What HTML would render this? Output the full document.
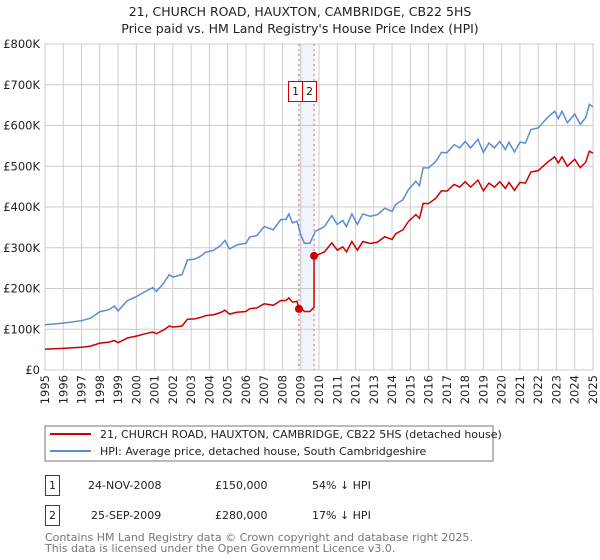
<!DOCTYPE html>
<html><head><meta charset="utf-8"><style>
body{margin:0;background:#fff;width:600px;height:560px;overflow:hidden;font-family:"DejaVu Sans","Liberation Sans",sans-serif;}
svg{position:absolute;left:0;top:0}
</style></head><body>
<svg id="c" width="600" height="560">
<text x="300" y="16" text-anchor="middle" font-size="12.5" fill="#222">21, CHURCH ROAD, HAUXTON, CAMBRIDGE, CB22 5HS</text>
<text x="300" y="33" text-anchor="middle" font-size="12.5" fill="#222">Price paid vs. HM Land Registry's House Price Index (HPI)</text>
<g id="grid"></g><g id="marks"></g><g id="axes"></g>
<rect x="45" y="426" width="448" height="35" fill="#fff" stroke="#777"/>
<line x1="50" y1="434" x2="91" y2="434" stroke="#cc0000" stroke-width="2"/>
<text x="100" y="438" font-size="11" fill="#222">21, CHURCH ROAD, HAUXTON, CAMBRIDGE, CB22 5HS (detached house)</text>
<line x1="50" y1="451" x2="91" y2="451" stroke="#5b8dd6" stroke-width="2"/>
<text x="100" y="455" font-size="11" fill="#222">HPI: Average price, detached house, South Cambridgeshire</text>
<g font-size="11" fill="#222">
<rect x="45.5" y="475.5" width="14" height="20" fill="#fff" stroke="#cc0000"/>
<text x="52.5" y="489" text-anchor="middle">1</text>
<text x="88" y="489">24-NOV-2008</text>
<text x="215" y="489">£150,000</text>
<text x="312" y="489">54% ↓ HPI</text>
<rect x="45.5" y="505.5" width="14" height="20" fill="#fff" stroke="#cc0000"/>
<text x="52.5" y="519" text-anchor="middle">2</text>
<text x="91" y="519">25-SEP-2009</text>
<text x="215" y="519">£280,000</text>
<text x="312" y="519">17% ↓ HPI</text>
</g>
<text x="45" y="541" font-size="11" fill="#777">Contains HM Land Registry data © Crown copyright and database right 2025.</text>
<text x="45" y="552" font-size="11" fill="#777">This data is licensed under the Open Government Licence v3.0.</text>
</svg>
<script>
const hpiYears=[1995,1996,1997,1997.5,1998,1998.5,1998.8,1999,1999.5,2000,2000.5,2000.9,2001.1,2001.5,2001.8,2002,2002.5,2002.8,2003.2,2003.5,2003.8,2004.2,2004.6,2004.85,2005.1,2005.5,2006,2006.2,2006.6,2007,2007.5,2007.9,2008.2,2008.35,2008.55,2008.8,2009.0,2009.2,2009.5,2009.8,2010.3,2010.7,2011,2011.3,2011.5,2011.8,2012.1,2012.4,2012.8,2013.2,2013.6,2014,2014.2,2014.6,2014.9,2015.3,2015.5,2015.7,2016,2016.4,2016.7,2017,2017.4,2017.7,2018,2018.3,2018.7,2019,2019.3,2019.6,2019.9,2020.2,2020.4,2020.7,2021,2021.3,2021.6,2022,2022.5,2022.9,2023.1,2023.3,2023.6,2024,2024.3,2024.6,2024.8,2025];
const hpiValues=[111,115,121,127,143,148,157,145,170,180,193,202,193,213,234,228,234,270,272,279,289,293,305,318,297,307,311,326,330,352,344,369,370,383,361,365,332,311,311,340,352,379,357,367,352,383,357,383,377,381,397,389,406,418,443,463,452,496,496,512,534,533,553,545,561,545,566,534,557,545,561,541,559,535,559,557,590,594,619,635,617,635,607,628,603,619,652,646];
const saleDates=[2008.9,2009.73];
const salePrices=[150,280];
const saleHpi=[325,340];
const yTicks=[0,100,200,300,400,500,600,700,800];
const yTickLabels=["£0","£100K","£200K","£300K","£400K","£500K","£600K","£700K","£800K"];
const xTicks=[1995,1996,1997,1998,1999,2000,2001,2002,2003,2004,2005,2006,2007,2008,2009,2010,2011,2012,2013,2014,2015,2016,2017,2018,2019,2020,2021,2022,2023,2024,2025];

const NS="http://www.w3.org/2000/svg";
const L=45,R=593,T=44,B=370;
const xs=v=>L+(v-1995)/(2025-1995)*(R-L);
const ys=v=>B-v/800*(B-T);
function mk(tag,attrs,parent){const e=document.createElementNS(NS,tag);for(const k in attrs)e.setAttribute(k,attrs[k]);parent.appendChild(e);return e;}
const grid=document.getElementById('grid'),marks=document.getElementById('marks'),axes=document.getElementById('axes');

let band=mk('rect',{x:xs(saleDates[0]),y:T,width:xs(saleDates[1])-xs(saleDates[0]),height:B-T,fill:'#eef3fc'},grid);



yTicks.forEach((t,i)=>{
  let g=mk('line',{x1:L,x2:R,y1:ys(t),y2:ys(t),stroke:'#cccccc'},grid);
  
  
  let tx=mk('text',{x:L-5,y:ys(t)+4,'text-anchor':'end','font-size':'11.5',fill:'#222'},axes);
  tx.textContent=yTickLabels[i];
  
  
});
xTicks.forEach(t=>{
  let g=mk('line',{x1:xs(t),x2:xs(t),y1:T,y2:B,stroke:'#cccccc'},grid);
  
  
  let tx=mk('text',{transform:`translate(${xs(t)+4},${B+5}) rotate(-90)`,'text-anchor':'end','font-size':'11.5',fill:'#222'},axes);
  tx.textContent=t;
  
  
});
let frame=mk('rect',{x:L,y:T,width:R-L,height:B-T,fill:'none',stroke:'#cccccc'},grid);



saleDates.forEach((d,i)=>{
  let v=mk('line',{x1:xs(d),x2:xs(d),y1:T,y2:B,stroke:'#e06060','stroke-dasharray':'2,3'},grid);
  
  
});

function interp(t){
  for(let i=0;i<hpiYears.length-1;i++){if(t>=hpiYears[i]&&t<=hpiYears[i+1]){const f=(t-hpiYears[i])/(hpiYears[i+1]-hpiYears[i]);return hpiValues[i]+f*(hpiValues[i+1]-hpiValues[i]);}}
  return hpiValues[hpiValues.length-1];
}
let hp=hpiYears.map((y,i)=>xs(y)+','+ys(hpiValues[i])).join(' ');
let hl=mk('polyline',{points:hp,fill:'none',stroke:'#5b8dd6','stroke-width':1.5},marks);



const r1=salePrices[0]/saleHpi[0],r2=salePrices[1]/saleHpi[1];
let pts=[];
hpiYears.forEach((y,i)=>{if(y<saleDates[0])pts.push([y,hpiValues[i]*r1]);});
pts.push([saleDates[0],salePrices[0]]);
hpiYears.forEach((y,i)=>{if(y>saleDates[0]&&y<saleDates[1])pts.push([y,hpiValues[i]*r1]);});
pts.push([saleDates[1],interp(saleDates[1])*r1]);
pts.push([saleDates[1],salePrices[1]]);
hpiYears.forEach((y,i)=>{if(y>saleDates[1])pts.push([y,hpiValues[i]*r2]);});
let pl=mk('polyline',{points:pts.map(p=>xs(p[0])+','+ys(p[1])).join(' '),fill:'none',stroke:'#cc0000','stroke-width':1.5},marks);



saleDates.forEach((d,i)=>{
  let c=mk('circle',{cx:xs(d),cy:ys(salePrices[i]),r:4,fill:'#cc0000'},marks);
  
  
  let rx=i===0?288:302;
  let b=mk('rect',{x:rx+0.5,y:81.5,width:14,height:20,fill:'#fff',stroke:'#cc0000'},marks);
  
  
  let t=mk('text',{x:rx+7.5,y:95,'text-anchor':'middle','font-size':'11',fill:'#222'},marks);
  t.textContent=String(i+1);
  
  
});
</script>
</body></html>
